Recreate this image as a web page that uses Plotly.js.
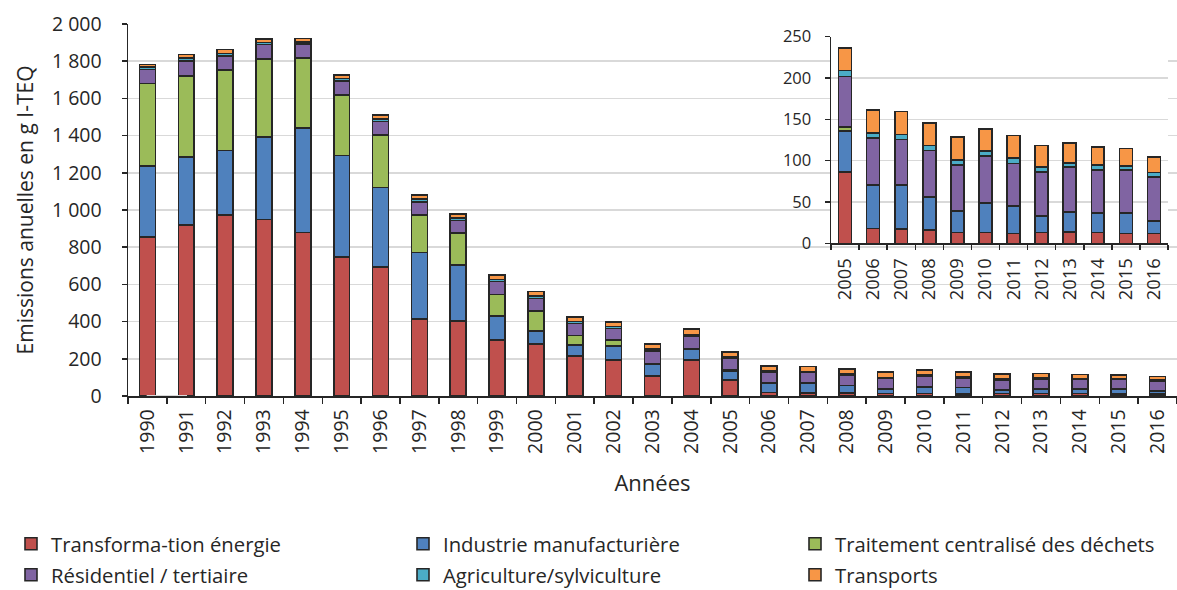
<!DOCTYPE html>
<html><head><meta charset="utf-8">
<script src="https://cdn.plot.ly/plotly-3.0.1.min.js"></script>
<style>html,body{margin:0;padding:0;background:#fff;}#chart{width:1177px;height:590px;}</style>
</head><body><div id="chart"></div>
<script>
const years = ['1990','1991','1992','1993','1994','1995','1996','1997','1998','1999','2000','2001','2002','2003','2004','2005','2006','2007','2008','2009','2010','2011','2012','2013','2014','2015','2016'];
const energie     = [854,920,972,949,879,746,692,413,404,300,280,216,192,108,192,86,18,17,16,13,13,12,13,14,13,12,12];
const industrie   = [382,365,347,442,562,548,428,358,300,131,70,57,78,65,60,50,52,53,40,26,36,33,20,24,24,24,15];
const dechets     = [444,437,433,420,376,325,283,201,171,115,108,52,30,2,3,5,0.5,0.5,0.5,0.5,0.5,0.5,0.5,0.5,0.5,0.5,0.5];
const residentiel = [76,80,77,78,75,76,72,72,68,69,67,65,63,68,65,61,57,55,56,55,56,51,53,54,51,52,53];
const agriculture = [12,14,13,12,12,12,14,14,13,12,12,10,10,9,9,7,6,6,6,6,6,7,6,5,6,5,5];
const transports  = [15,21,21,18,17,18,22,22,23,23,24,26,26,27,30,27,28,28,27,28,27,27,26,24,22,21,19];
const seriesNames = ['Transforma-tion énergie','Industrie manufacturière','Traitement centralisé des déchets','Résidentiel / tertiaire','Agriculture/sylviculture','Transports'];
const mainTickVals = [0,200,400,600,800,1000,1200,1400,1600,1800,2000];
const mainTickText = ['0','200','400','600','800','1 000','1 200','1 400','1 600','1 800','2 000'];
const insetTickVals = [0,50,100,150,200,250];
const insetStart = 15; // inset shows 2005-2016

const colors = ['#C0504D','#4F81BD','#9BBB59','#8064A2','#4BACC6','#F79646'];
const allSeries = [energie,industrie,dechets,residentiel,agriculture,transports];
const lineStyle = {color:'#262626', width:1.6};
const txt = '#262626';
const FONT = '"Open Sans", "Noto Sans", sans-serif';

const traces = [];
allSeries.forEach((s,i)=>{
  traces.push({type:'bar', name:seriesNames[i], x:years, y:s, xaxis:'x', yaxis:'y',
    width:0.41, marker:{color:colors[i], line:lineStyle},
    legend: i<3 ? 'legend' : 'legend2', hoverinfo:'x+y+name'});
});
allSeries.forEach((s,i)=>{
  traces.push({type:'bar', name:seriesNames[i], x:years.slice(insetStart), y:s.slice(insetStart), xaxis:'x3', yaxis:'y3',
    width:0.46, marker:{color:colors[i], line:lineStyle}, showlegend:false, hoverinfo:'x+y+name'});
});

const W=1177, H=590, L=128, R=0, T=24, B=194;
const pw = W-L-R, ph = H-T-B;
const px = v => (v-L)/pw;
const py = v => (H-B-v)/ph;

const layout = {
  width:W, height:H, margin:{l:L,r:R,t:T,b:B, autoexpand:false},
  paper_bgcolor:'#fff', plot_bgcolor:'#fff',
  barmode:'stack', showlegend:true,
  font:{family:FONT, color:txt, size:19},
  xaxis:{type:'category', domain:[0,1], anchor:'y', tickson:'boundaries', ticks:'outside', ticklen:6, tickwidth:1.5, tickcolor:'#262626',
    showline:true, linecolor:'#262626', linewidth:1.5, tickangle:-90, tickfont:{size:19.5, color:txt}, showgrid:false, ticklabelstandoff:4,
    title:{text:'Années', font:{size:22, color:txt}, standoff:22}},
  yaxis:{domain:[0,1], anchor:'x', range:[0,2000], tickvals:mainTickVals, ticktext:mainTickText, ticks:'outside', ticklen:5, tickwidth:1.5,
    tickcolor:'#262626', showline:true, linecolor:'#262626', linewidth:1.5, gridcolor:'#d9d9d9', gridwidth:1.5, zeroline:false,
    ticklabelstandoff:16, tickfont:{size:19.5, color:txt}, title:{text:'Emissions anuelles en g I-TEQ', font:{size:21, color:txt}, standoff:12}},
  xaxis2:{domain:[px(782), px(1173)], anchor:'y2', visible:false, range:[0,1], fixedrange:true},
  yaxis2:{domain:[py(320), py(26)], anchor:'x2', visible:false, range:[0,1], fixedrange:true},
  xaxis3:{type:'category', domain:[px(831), px(1168)], anchor:'y3', tickson:'boundaries', ticks:'outside', ticklen:5, tickwidth:1.5, tickcolor:'#262626',
    showline:true, linecolor:'#262626', linewidth:1.5, tickangle:-90, tickfont:{size:18.4, color:txt}, showgrid:false, ticklabelstandoff:6},
  yaxis3:{domain:[py(243.3), py(36.7)], anchor:'x3', range:[0,250], tickvals:insetTickVals, ticks:'outside', ticklen:5, tickwidth:1.5,
    tickcolor:'#262626', showline:true, linecolor:'#262626', linewidth:1.5, gridcolor:'#d9d9d9', gridwidth:1.5, zeroline:false,
    ticklabelstandoff:10, tickfont:{size:16.5, color:txt}},
  legend:{orientation:'h', traceorder:'normal', x:px(11), xanchor:'left', y:py(524), yanchor:'top', entrywidth:347, entrywidthmode:'pixels',
    font:{size:20.3, color:txt}, itemwidth:30, bgcolor:'rgba(0,0,0,0)'},
  legend2:{orientation:'h', traceorder:'normal', x:px(11), xanchor:'left', y:py(555), yanchor:'top', entrywidth:347, entrywidthmode:'pixels',
    font:{size:20.3, color:txt}, itemwidth:30, bgcolor:'rgba(0,0,0,0)'},
  shapes:[{type:'rect', xref:'x2 domain', yref:'y2 domain', x0:0, x1:1, y0:0, y1:1, line:{color:'#d9d9d9', width:1.5}, fillcolor:'rgba(0,0,0,0)', layer:'above'}]
};

Plotly.newPlot('chart', traces, layout, {displayModeBar:false, staticPlot:true});
</script>
</body></html>
